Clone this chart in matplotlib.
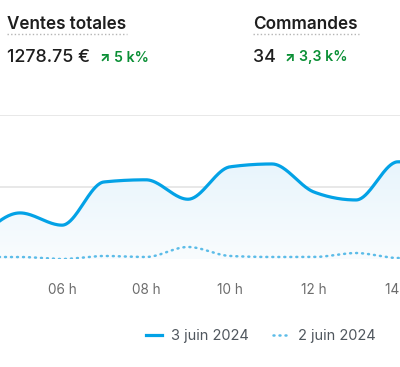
import numpy as np
import matplotlib
matplotlib.use("Agg")
import matplotlib.pyplot as plt
from matplotlib.lines import Line2D
from matplotlib.colors import LinearSegmentedColormap

# ---- data ----
hours = [4, 5, 6, 7, 8, 9, 10, 11, 12, 13, 14, 15]
sales_jun3 = [26, 64, 47, 107, 110, 83, 128, 132, 93, 82, 135, 130]
sales_jun2 = [2.8, 2.8, 0, 4.2, 2.8, 16.7, 4.2, 2.8, 2.8, 8.3, 1.4, 2.0]
tick_hours = [6, 8, 10, 12, 14]
tick_labels = ["06 h", "08 h", "10 h", "12 h", "14 h"]
grid_values = [0, 100, 200]
legend_labels = ["3 juin 2024", "2 juin 2024"]

FONT = ["Inter", "DejaVu Sans"]
plt.rcParams["font.family"] = FONT

BLUE = "#03a2e6"
BLUE_LIGHT = "#5cbce8"
GREEN = "#0a8f35"
DARK = "#1e1e1e"
GRAY = "#6d6d6d"
DOTS = (0, (0.4, 2.0))


def monotone_x(x, y, n=40):
    x = np.asarray(x, float)
    y = np.asarray(y, float)
    h = np.diff(x)
    s = np.diff(y) / h
    t = np.zeros_like(y)
    for i in range(1, len(y) - 1):
        s0, s1 = s[i - 1], s[i]
        p = (s0 * h[i] + s1 * h[i - 1]) / (h[i - 1] + h[i])
        t[i] = (np.sign(s0) + np.sign(s1)) * min(abs(s0), abs(s1), 0.5 * abs(p))
    t[0] = (3 * s[0] - t[1]) / 2
    t[-1] = (3 * s[-1] - t[-2]) / 2
    xs, ys = [], []
    for i in range(len(x) - 1):
        u = np.linspace(0, 1, n, endpoint=False)
        dx = h[i]
        h00 = 2 * u**3 - 3 * u**2 + 1
        h10 = u**3 - 2 * u**2 + u
        h01 = -2 * u**3 + 3 * u**2
        h11 = u**3 - u**2
        xs.append(x[i] + u * dx)
        ys.append(h00 * y[i] + h10 * dx * t[i] + h01 * y[i + 1] + h11 * dx * t[i + 1])
    xs.append([x[-1]])
    ys.append([y[-1]])
    return np.concatenate(xs), np.concatenate(ys)


W, H = 400, 367
fig = plt.figure(figsize=(W / 100, H / 100), dpi=100)
fig.patch.set_facecolor("white")

px_per_h = 42.0
x_left = 6 - 62 / px_per_h
x_right = 6 + (W - 62) / px_per_h
ax = fig.add_axes([0, (H - 259) / H, 1, (259 - 115) / H])
ax.set_xlim(x_left, x_right)
ax.set_ylim(0, 200)
for s in ax.spines.values():
    s.set_visible(False)
ax.set_yticks([])
ax.set_xticks(tick_hours)
ax.set_xticklabels(tick_labels)
ax.tick_params(axis="x", length=0, pad=17, labelsize=9.8, labelcolor=GRAY)

for g in grid_values:
    ax.axhline(g, color="#e4e4e4", lw=1.2, zorder=0)

xs3, ys3 = monotone_x(hours, sales_jun3)
xs2, ys2 = monotone_x(hours, sales_jun2)

# gradient fill under the main line
poly = ax.fill_between(xs3, ys3, 0, color="none", lw=0)
cmap = LinearSegmentedColormap.from_list("g", ["#f9fcfe", "#e8f5fc"])
grad = np.linspace(0, 1, 256).reshape(-1, 1)
im = ax.imshow(grad, extent=[x_left, x_right, 0, max(sales_jun3)], origin="lower",
               cmap=cmap, aspect="auto", zorder=1)
im.set_clip_path(poly.get_paths()[0], transform=ax.transData)

ax.plot(xs2, ys2, color=BLUE_LIGHT, lw=1.8, linestyle=DOTS,
        dash_capstyle="round", zorder=3)
ax.plot(xs3, ys3, color=BLUE, lw=2.3, zorder=4, solid_capstyle="round")

# ---- header ----
def ftxt(x, y, s, **kw):
    fig.text(x / W, 1 - y / H, s, **kw)

ftxt(7, 29, "Ventes totales", fontsize=12.3, fontweight="semibold", color=DARK, va="baseline")
ftxt(253, 29, "Commandes", fontsize=12.3, fontweight="semibold", color=DARK, va="baseline")
fig.add_artist(Line2D([7 / W, 127 / W], [1 - 34 / H] * 2, color="#b5b5b5", lw=1.0,
                      linestyle=(0, (1, 1.6))))
fig.add_artist(Line2D([253 / W, 359 / W], [1 - 34 / H] * 2, color="#b5b5b5", lw=1.0,
                      linestyle=(0, (1, 1.6))))

ftxt(7, 62, "1278.75 €", fontsize=12.9, fontweight="medium", color=DARK, va="baseline")
ftxt(100, 60.5, "↗", fontsize=9.5, fontweight="heavy", color=GREEN, va="baseline")
ftxt(114, 61.5, "5 k%", fontsize=10.2, fontweight="semibold", color=GREEN, va="baseline")
ftxt(253, 62, "34", fontsize=12.9, fontweight="medium", color=DARK, va="baseline")
ftxt(285, 60.5, "↗", fontsize=9.5, fontweight="heavy", color=GREEN, va="baseline")
ftxt(299, 61.5, "3,3 k%", fontsize=10.2, fontweight="semibold", color=GREEN, va="baseline")

# ---- legend ----
handles = [Line2D([], [], color=BLUE, lw=2.3),
           Line2D([], [], color=BLUE_LIGHT, lw=1.8, linestyle=DOTS, dash_capstyle="round")]
fig.legend(handles, legend_labels, loc="center", bbox_to_anchor=(261 / W, 1 - 336 / H),
           ncol=2, frameon=False, fontsize=10.5, labelcolor="#50575e",
           handlelength=1.1, handletextpad=0.6, columnspacing=1.7)

fig.savefig("out.png", dpi=100, facecolor="white")
